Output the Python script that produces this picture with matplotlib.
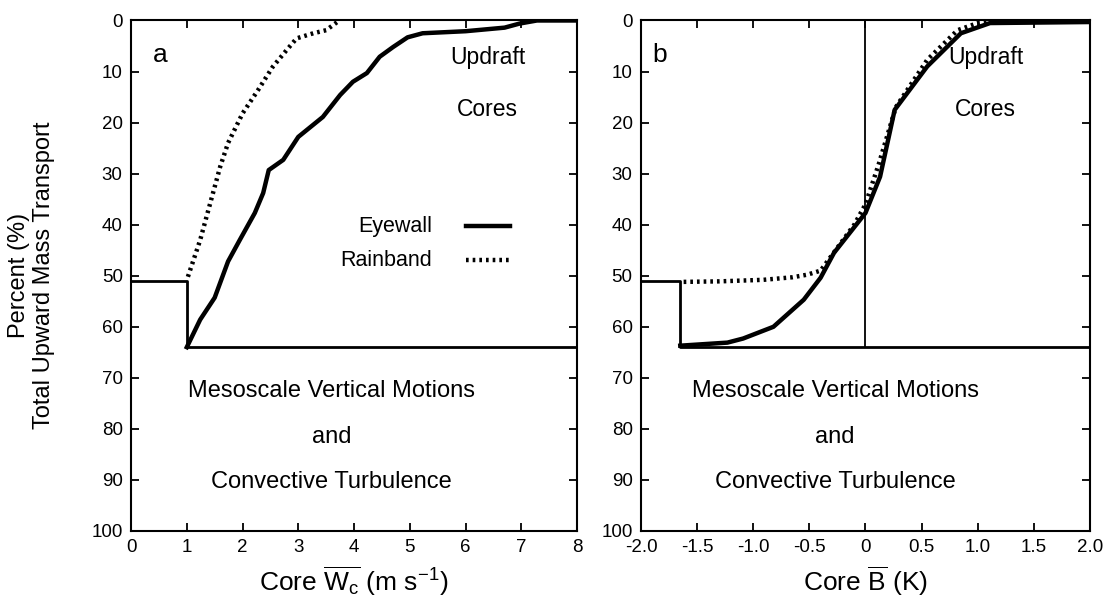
# plot cumulative upward mass transport by core strength (eyewall vs rainband)

import matplotlib
matplotlib.use('Agg')
import matplotlib.pyplot as plt

plt.rcParams['font.family'] = ['Liberation Sans', 'DejaVu Sans']
plt.rcParams['mathtext.fontset'] = 'custom'
plt.rcParams['mathtext.rm'] = 'Liberation Sans'
plt.rcParams['mathtext.it'] = 'Liberation Sans'

# panel a: core vertical velocity (m/s) vs percent of total upward transport
wc_eyewall = [1.0, 1.24, 1.5, 1.74, 1.95, 2.22, 2.37, 2.47, 2.73, 3.0, 3.44,
              3.75, 3.98, 4.23, 4.46, 4.7, 4.96, 5.23, 6.0, 6.7, 6.97, 7.28, 8.0]
pct_eyewall_a = [64, 58.6, 54.3, 47.2, 43, 37.7, 33.8, 29.3, 27.3, 22.8, 18.9,
                 14.6, 12, 10.3, 7.1, 5.2, 3.3, 2.5, 2.1, 1.4, 0.6, 0, 0]
wc_rainband = [1.02, 1.24, 1.42, 1.6, 1.74, 2.0, 2.28, 2.54, 2.79, 2.97, 3.27,
               3.5, 3.71]
pct_rainband_a = [50.2, 43, 35.8, 28.6, 24, 18.2, 13.6, 9.1, 5.8, 3.5, 2.5,
                  1.9, 0.2]

# panel b: core buoyancy (K)
b_eyewall = [-1.65, -1.23, -1.09, -0.82, -0.55, -0.40, -0.28, 0.0, 0.13, 0.26,
             0.55, 0.85, 1.11, 2.0]
pct_eyewall_b = [63.7, 63.1, 62.3, 60, 54.7, 50.4, 45.5, 37.7, 30.6, 17.5,
                 9.0, 2.5, 0.5, 0.3]
b_rainband = [-1.62, -1.3, -0.91, -0.65, -0.52, -0.40, -0.3, -0.1, 0.0, 0.12,
              0.27, 0.55, 0.82, 1.0, 1.13]
pct_rainband_b = [51.2, 51.1, 50.8, 50.3, 49.8, 49, 46, 40, 36, 28,
                  17, 7.7, 1.9, 0.5, 0.2]

# mesoscale fractions (cutoff where cores begin)
meso_rainband = 51
meso_eyewall = 64
cut_a = 1.0
cut_b = -1.65

yticks = list(range(0, 101, 10))
xticks_a = list(range(0, 9))
xticks_b = [-2.0, -1.5, -1.0, -0.5, 0, 0.5, 1.0, 1.5, 2.0]
xlabels_b = ['-2.0', '-1.5', '-1.0', '-0.5', '0', '0.5', '1.0', '1.5', '2.0']

DOTS = (0, (0.6, 0.9))


def style_axes(ax):
    """ common frame / tick settings """
    ax.set_ylim(100, 0)
    ax.set_yticks(yticks)
    ax.tick_params(direction='in', length=6, width=1.3, top=True, right=True,
                   labelsize=13.5, pad=6)
    for s in ax.spines.values():
        s.set_linewidth(1.5)


def add_texts(ax, x_mid):
    """ region labels """
    ax.text(x_mid, 72.5, 'Mesoscale Vertical Motions', ha='center', va='center', fontsize=17)
    ax.text(x_mid, 81.5, 'and', ha='center', va='center', fontsize=17)
    ax.text(x_mid, 90.5, 'Convective Turbulence', ha='center', va='center', fontsize=17)


fig = plt.figure(figsize=(11.04, 6.01), dpi=100)
ax_a = fig.add_axes([0.1187, 0.1165, 0.404, 0.8494])
ax_b = fig.add_axes([0.5806, 0.1165, 0.4067, 0.8494])

# ---- panel a
ax_a.plot([0, cut_a, cut_a, 8], [meso_rainband, meso_rainband, meso_eyewall, meso_eyewall],
          color='black', lw=2.0)
ax_a.plot(wc_eyewall, pct_eyewall_a, color='black', lw=3.2, solid_joinstyle='round')
ax_a.plot(wc_rainband, pct_rainband_a, color='black', lw=3.2, linestyle=DOTS)
ax_a.set_xlim(0, 8)
ax_a.set_xticks(xticks_a)
style_axes(ax_a)
ax_a.text(0.52, 6.8, 'a', fontsize=19, ha='center', va='center')
ax_a.text(6.4, 7.3, 'Updraft', fontsize=16.5, ha='center', va='center')
ax_a.text(6.4, 17.5, 'Cores', fontsize=16.5, ha='center', va='center')
add_texts(ax_a, 3.6)

# legend drawn by hand
ax_a.text(5.4, 40.3, 'Eyewall', fontsize=15.5, ha='right', va='center')
ax_a.text(5.4, 47.0, 'Rainband', fontsize=15.5, ha='right', va='center')
ax_a.plot([6.0, 6.8], [40.3, 40.3], color='black', lw=3.2)
ax_a.plot([6.0, 6.8], [47.0, 47.0], color='black', lw=3.2, linestyle=DOTS)

ax_a.set_xlabel(r'Core $\overline{\mathrm{W_c}}$ (m s$^{\mathrm{-1}}$)', fontsize=19, labelpad=6)
ax_a.set_ylabel('Percent (%)\nTotal Upward Mass Transport', fontsize=17, labelpad=26,
                linespacing=1.2)

# ---- panel b
ax_b.plot([-2, cut_b, cut_b, 2], [meso_rainband, meso_rainband, meso_eyewall, meso_eyewall],
          color='black', lw=2.0)
ax_b.plot([0, 0], [0, meso_eyewall], color='black', lw=1.3)
ax_b.plot(b_eyewall, pct_eyewall_b, color='black', lw=3.2, solid_joinstyle='round')
ax_b.plot(b_rainband, pct_rainband_b, color='black', lw=3.2, linestyle=DOTS)
ax_b.set_xlim(-2, 2)
ax_b.set_xticks(xticks_b)
ax_b.set_xticklabels(xlabels_b)
style_axes(ax_b)
ax_b.text(-1.83, 6.8, 'b', fontsize=19, ha='center', va='center')
ax_b.text(1.07, 7.3, 'Updraft', fontsize=16.5, ha='center', va='center')
ax_b.text(1.07, 17.5, 'Cores', fontsize=16.5, ha='center', va='center')
add_texts(ax_b, -0.27)
ax_b.set_xlabel(r'Core $\overline{\mathrm{B}}$ (K)', fontsize=19, labelpad=6)

fig.savefig('out.png', dpi=100)
